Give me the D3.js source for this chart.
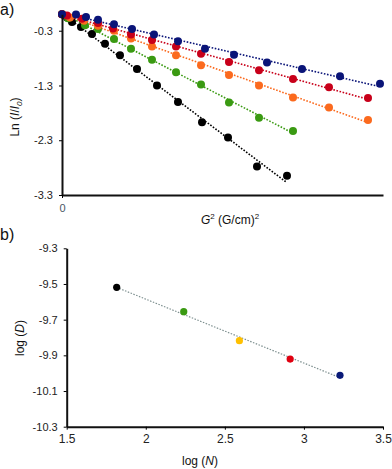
<!DOCTYPE html>
<html>
<head>
<meta charset="utf-8">
<script src="https://cdn.jsdelivr.net/npm/d3@7"></script>
<style>
  body { margin: 0; background: #fff; }
  text { font-family: "Liberation Sans", Arial, sans-serif; }
</style>
</head>
<body>
<script>
// ---- panel a data: G^2 (arbitrary units) vs Ln(I/I0) ----
const blueG2   = [0, 1.4, 2.4, 3.6, 5.2, 7.0, 9.2, 11.6, 14.3, 17.2, 20.5, 24.0, 27.8, 31.8];
const blueLn   = [0, -0.004, -0.05, -0.10, -0.18, -0.27, -0.37, -0.49, -0.63, -0.74, -0.88, -1.00, -1.13, -1.27];
const redG2    = [0, 0.5, 2.0, 3.6, 5.1, 6.9, 9.0, 11.4, 13.9, 16.7, 19.7, 23.1, 26.7, 30.6];
const redLn    = [0, -0.02, -0.08, -0.16, -0.26, -0.37, -0.47, -0.59, -0.72, -0.87, -1.02, -1.18, -1.33, -1.53];
const orangeG2 = [0, 0.8, 2.2, 3.6, 5.2, 6.9, 9.0, 11.4, 13.9, 16.7, 19.7, 23.1, 26.7, 30.6];
const orangeLn = [0, -0.06, -0.12, -0.21, -0.30, -0.44, -0.59, -0.75, -0.93, -1.11, -1.30, -1.52, -1.70, -1.93];
const greenG2  = [0, 0.6, 2.3, 3.6, 5.2, 6.9, 9.0, 11.4, 13.9, 16.7, 19.7, 23.1];
const greenLn  = [0, -0.07, -0.20, -0.27, -0.45, -0.63, -0.83, -1.06, -1.28, -1.61, -1.89, -2.13];
const blackG2  = [0, 0.5, 1.0, 1.9, 3.0, 4.3, 5.8, 7.5, 9.5, 11.6, 14.0, 16.6, 19.5, 22.5];
const blackLn  = [0, -0.06, -0.14, -0.23, -0.36, -0.54, -0.75, -1.00, -1.30, -1.60, -1.97, -2.25, -2.78, -2.95];
const lnTicks  = [-0.3, -1.3, -2.3, -3.3];

// ---- panel b data: log(N) vs log(D) ----
const logN     = [1.816, 2.240, 2.592, 2.913, 3.228];
const logD     = [-9.519, -9.655, -9.818, -9.921, -10.012];
const bColors  = ["#000000", "#3a9a12", "#ffc000", "#e00010", "#0a1a78"];
const logNTicks = [1.5, 2, 2.5, 3, 3.5];
const logDTicks = [-9.3, -9.5, -9.7, -9.9, -10.1, -10.3];

const width = 392;
const height = 469;

const svg = d3.select("body").append("svg")
    .attr("width", width)
    .attr("height", height)
    .attr("viewBox", [0, 0, width, height]);

// least squares fit, used for the dotted trend lines
function fit(xs, ys) {
    const mx = d3.mean(xs), my = d3.mean(ys);
    let num = 0, den = 0;
    xs.forEach((x, i) => { num += (x - mx) * (ys[i] - my); den += (x - mx) * (x - mx); });
    const m = num / den;
    return { m: m, b: my - m * mx };
}

// ================= panel a =================
const xa = d3.scaleLinear().domain([0, 32.1]).range([62, 383]);
const ya = d3.scaleLinear().domain([-3.3, 0]).range([195, 14.3]);

const seriesA = [
    { g: blackG2,  ln: blackLn,  color: "#000000" },
    { g: greenG2,  ln: greenLn,  color: "#3a9a12" },
    { g: orangeG2, ln: orangeLn, color: "#fb6a1e" },
    { g: redG2,    ln: redLn,    color: "#c8001a" },
    { g: blueG2,   ln: blueLn,   color: "#0a1478" }
];

const ga = svg.append("g");

seriesA.forEach(s => {
    const f = fit(s.g, s.ln);
    const x1 = d3.max(s.g);
    ga.append("line")
        .attr("x1", xa(0)).attr("y1", ya(f.b))
        .attr("x2", xa(x1)).attr("y2", ya(f.m * x1 + f.b))
        .attr("stroke", s.color)
        .attr("stroke-width", 1.6)
        .attr("stroke-dasharray", "1.6,1.6");
});
seriesA.forEach(s => {
    ga.append("g").selectAll("circle")
        .data(s.g)
        .join("circle")
        .attr("cx", d => xa(d))
        .attr("cy", (d, i) => ya(s.ln[i]))
        .attr("r", 4)
        .attr("fill", s.color);
});

// axes a
const yAxisA = ga.append("g")
    .attr("transform", "translate(62,0)")
    .call(d3.axisLeft(ya).tickValues(lnTicks).tickSize(3).tickSizeOuter(0).tickPadding(6)
        .tickFormat(d => d.toFixed(1)));
yAxisA.select(".domain").attr("stroke", "#111").attr("stroke-width", 2);
yAxisA.selectAll(".tick text").attr("font-size", 11).attr("fill", "#222");

const xAxisA = ga.append("g")
    .attr("transform", "translate(0,195)")
    .call(d3.axisBottom(xa).tickValues([0]).tickSize(3).tickSizeOuter(0).tickPadding(6)
        .tickFormat(d => "0"));
xAxisA.select(".domain").attr("stroke", "#111").attr("stroke-width", 2);
xAxisA.selectAll(".tick text").attr("font-size", 11).attr("fill", "#4a5866");

const xlabA = ga.append("text")
    .attr("x", 230).attr("y", 224)
    .attr("text-anchor", "middle")
    .attr("font-size", 12)
    .attr("fill", "#111");
xlabA.append("tspan").attr("font-style", "italic").text("G");
xlabA.append("tspan").attr("font-size", 8).attr("dy", -5).text("2");
xlabA.append("tspan").attr("dy", 5).text(" (G/cm)");
xlabA.append("tspan").attr("font-size", 8).attr("dy", -5).text("2");

const ylabA = ga.append("text")
    .attr("transform", "translate(19,117) rotate(-90)")
    .attr("text-anchor", "middle")
    .attr("font-size", 12)
    .attr("fill", "#111");
ylabA.append("tspan").text("Ln (");
ylabA.append("tspan").attr("font-style", "italic").text("I");
ylabA.append("tspan").text("/");
ylabA.append("tspan").attr("font-style", "italic").text("I");
ylabA.append("tspan").attr("font-style", "italic").attr("font-size", 8).attr("dy", 3).text("0");
ylabA.append("tspan").attr("dy", -3).text(")");

svg.append("text").attr("x", 0).attr("y", 15)
    .attr("font-size", 16).attr("fill", "#111").text("a)");

// ================= panel b =================
const xb = d3.scaleLinear().domain([1.5, 3.5]).range([66.7, 383]);
const yb = d3.scaleLinear().domain([-10.3, -9.3]).range([426.7, 248.3]);

const gb = svg.append("g");

const fb = fit(logN, logD);
const n0 = d3.min(logN), n1 = d3.max(logN);
gb.append("line")
    .attr("x1", xb(n0)).attr("y1", yb(fb.m * n0 + fb.b))
    .attr("x2", xb(n1)).attr("y2", yb(fb.m * n1 + fb.b))
    .attr("stroke", "#7d8f8f")
    .attr("stroke-width", 1.2)
    .attr("stroke-dasharray", "1.5,1.5");

gb.selectAll("circle")
    .data(logN)
    .join("circle")
    .attr("cx", d => xb(d))
    .attr("cy", (d, i) => yb(logD[i]))
    .attr("r", 3.6)
    .attr("fill", (d, i) => bColors[i]);

const yAxisB = gb.append("g")
    .attr("transform", "translate(66.7,0)")
    .call(d3.axisLeft(yb).tickValues(logDTicks).tickSize(3).tickSizeOuter(0).tickPadding(6)
        .tickFormat(d => d.toFixed(1)));
yAxisB.select(".domain").attr("stroke", "#111").attr("stroke-width", 2);
yAxisB.selectAll(".tick text").attr("font-size", 11).attr("fill", "#222");

const xAxisB = gb.append("g")
    .attr("transform", "translate(0,426.7)")
    .call(d3.axisBottom(xb).tickValues(logNTicks).tickSize(3).tickSizeOuter(0).tickPadding(5)
        .tickFormat(d => String(d)));
xAxisB.select(".domain").attr("stroke", "#111").attr("stroke-width", 2);
xAxisB.selectAll(".tick text").attr("font-size", 12).attr("fill", "#222");

const xlabB = gb.append("text")
    .attr("x", 200).attr("y", 465)
    .attr("text-anchor", "middle")
    .attr("font-size", 12)
    .attr("fill", "#111");
xlabB.append("tspan").text("log (");
xlabB.append("tspan").attr("font-style", "italic").text("N");
xlabB.append("tspan").text(")");

const ylabB = gb.append("text")
    .attr("transform", "translate(24,338) rotate(-90)")
    .attr("text-anchor", "middle")
    .attr("font-size", 12)
    .attr("fill", "#111");
ylabB.append("tspan").text("log (");
ylabB.append("tspan").attr("font-style", "italic").text("D");
ylabB.append("tspan").text(")");

svg.append("text").attr("x", 0).attr("y", 240)
    .attr("font-size", 16).attr("fill", "#111").text("b)");
</script>
</body>
</html>
